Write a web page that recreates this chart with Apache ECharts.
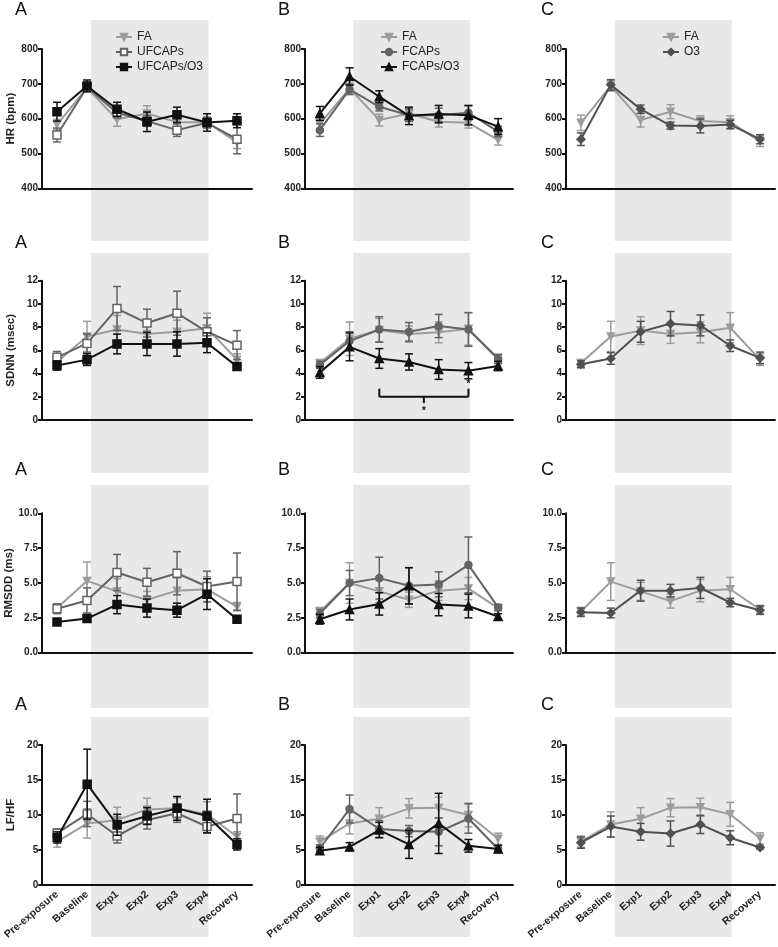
<!DOCTYPE html>
<html>
<head>
<meta charset="utf-8">
<script src="https://cdn.jsdelivr.net/npm/echarts@6/dist/echarts.min.js"></script>
<style>html,body{margin:0;padding:0;background:#fff}#c{width:778px;height:947px}</style>
</head>
<body>
<div id="c"></div>
<script>
// ---------- DATA ----------
const categories = ['Pre-exposure','Baseline','Exp1','Exp2','Exp3','Exp4','Recovery'];
const panelLetters = ['A','B','C'];
const yNames = ['HR (bpm)','SDNN (msec)','RMSDD (ms)','LF/HF'];
const yTicks = [[400,800,100],[0,12,2],[0,10,2.5],[0,20,5]];
const exposureBand = [1.13, 5.05];

// HR
const hrA_FA = [583, 688, 598, 615, 590, 590, 532];
const hrA_FA_err = [15, 10, 20, 22, 15, 15, 18];
const hrA_UF = [553, 690, 617, 593, 567, 588, 541];
const hrA_UF_err = [20, 10, 15, 15, 18, 15, 42];
const hrA_UFO3 = [620, 694, 627, 591, 611, 589, 594];
const hrA_UFO3_err = [27, 17, 20, 28, 22, 25, 20];
const hrB_FA = [585, 687, 596, 615, 591, 588, 539];
const hrB_FA_err = [15, 15, 17, 15, 15, 15, 15];
const hrB_F = [567, 684, 634, 610, 610, 617, 563];
const hrB_F_err = [18, 15, 12, 18, 20, 20, 15];
const hrB_FO3 = [615, 721, 663, 608, 613, 610, 577];
const hrB_FO3_err = [20, 25, 17, 25, 25, 28, 23];
const hrC_FA = [588, 694, 596, 620, 593, 590, 535];
const hrC_FA_err = [22, 15, 20, 20, 15, 18, 15];
const hrC_O3 = [541, 697, 627, 580, 579, 583, 541];
const hrC_O3_err = [18, 15, 12, 10, 20, 12, 13];

// SDNN
const sdA_FA = [5.0, 7.2, 7.8, 7.4, 7.6, 7.9, 5.2];
const sdA_FA_err = [0.3, 1.3, 1.2, 0.8, 1.0, 1.3, 0.5];
const sdA_UF = [5.4, 6.6, 9.6, 8.35, 9.2, 7.6, 6.45];
const sdA_UF_err = [0.5, 0.8, 1.9, 1.2, 1.9, 1.2, 1.25];
const sdA_UFO3 = [4.7, 5.2, 6.55, 6.55, 6.55, 6.65, 4.6];
const sdA_UFO3_err = [0.4, 0.5, 0.85, 1.0, 1.05, 0.85, 0.3];
const sdB_FA = [4.9, 7.0, 7.75, 7.4, 7.55, 7.85, 5.3];
const sdB_FA_err = [0.3, 1.45, 1.0, 0.7, 0.9, 1.4, 0.35];
const sdB_F = [4.75, 6.8, 7.8, 7.6, 8.1, 7.8, 5.25];
const sdB_F_err = [0.3, 0.8, 1.1, 0.8, 1.0, 1.45, 0.4];
const sdB_FO3 = [4.1, 6.3, 5.3, 5.0, 4.35, 4.25, 4.65];
const sdB_FO3_err = [0.5, 1.2, 0.85, 0.7, 0.85, 0.7, 0.4];
const sdC_FA = [4.9, 7.2, 7.7, 7.4, 7.55, 7.95, 5.2];
const sdC_FA_err = [0.3, 1.3, 1.2, 0.8, 0.9, 1.3, 0.5];
const sdC_O3 = [4.8, 5.3, 7.6, 8.3, 8.15, 6.4, 5.35];
const sdC_O3_err = [0.3, 0.5, 0.9, 1.05, 0.9, 0.5, 0.5];

// RMSSD
const rmA_FA = [3.2, 5.15, 4.4, 3.8, 4.45, 4.55, 3.3];
const rmA_FA_err = [0.3, 1.35, 0.9, 0.6, 0.9, 0.9, 0.3];
const rmA_UF = [3.15, 3.75, 5.75, 5.05, 5.7, 4.75, 5.1];
const rmA_UF_err = [0.35, 0.9, 1.3, 1.0, 1.55, 1.1, 2.05];
const rmA_UFO3 = [2.2, 2.45, 3.45, 3.2, 3.05, 4.2, 2.4];
const rmA_UFO3_err = [0.15, 0.2, 0.65, 0.65, 0.5, 1.1, 0.15];
const rmB_FA = [2.95, 5.0, 4.4, 3.8, 4.45, 4.6, 3.2];
const rmB_FA_err = [0.3, 1.45, 0.8, 0.55, 0.7, 0.8, 0.2];
const rmB_F = [2.8, 5.0, 5.35, 4.8, 4.9, 6.3, 3.25];
const rmB_F_err = [0.3, 0.9, 1.5, 1.3, 0.9, 2.0, 0.2];
const rmB_FO3 = [2.4, 3.1, 3.5, 4.8, 3.45, 3.35, 2.6];
const rmB_FO3_err = [0.35, 0.75, 0.8, 1.3, 0.8, 0.85, 0.2];
const rmC_FA = [2.95, 5.1, 4.4, 3.7, 4.45, 4.55, 3.1];
const rmC_FA_err = [0.3, 1.35, 0.65, 0.5, 0.8, 0.85, 0.3];
const rmC_O3 = [2.9, 2.85, 4.45, 4.45, 4.65, 3.6, 3.05];
const rmC_O3_err = [0.3, 0.35, 0.75, 0.45, 0.75, 0.3, 0.3];

// LF/HF
const lfA_FA = [6.2, 8.8, 9.3, 10.8, 10.95, 10.1, 6.9];
const lfA_FA_err = [0.8, 2.1, 1.8, 1.6, 1.5, 1.8, 0.7];
const lfA_UF = [7.4, 10.15, 7.0, 9.3, 10.25, 8.35, 9.5];
const lfA_UF_err = [0.6, 1.8, 1.0, 1.3, 1.3, 0.9, 3.5];
const lfA_UFO3 = [6.8, 14.4, 8.6, 9.85, 10.95, 9.85, 5.8];
const lfA_UFO3_err = [0.8, 5.0, 1.5, 1.2, 1.7, 2.4, 0.8];
const lfB_FA = [6.2, 8.8, 9.45, 10.95, 11.05, 10.0, 6.6];
const lfB_FA_err = [0.8, 1.5, 1.6, 1.4, 1.5, 1.7, 0.8];
const lfB_F = [5.25, 10.85, 8.0, 7.7, 7.6, 9.5, 5.15];
const lfB_F_err = [0.5, 2.0, 1.2, 0.8, 2.0, 2.1, 0.5];
const lfB_FO3 = [4.9, 5.45, 7.85, 5.8, 8.8, 5.6, 5.15];
const lfB_FO3_err = [0.5, 0.6, 1.1, 2.0, 4.3, 0.9, 0.5];
const lfC_FA = [6.2, 8.65, 9.45, 11.05, 11.1, 10.1, 6.65];
const lfC_FA_err = [0.8, 1.8, 1.6, 1.3, 1.3, 1.7, 0.8];
const lfC_O3 = [6.05, 8.35, 7.6, 7.35, 8.65, 6.75, 5.35];
const lfC_O3_err = [0.8, 1.5, 1.2, 1.8, 1.3, 1.0, 0.2];

// significance annotation (SDNN, panel B)
const sigFrom = 'Exp1', sigTo = 'Exp4';
const sigLevel = 2.0, sigArmTop = 2.7, sigStemBottom = 1.45, sigStarY = 0.75;
const sigStar2 = ['Exp4', 3.1];

// ---------- STYLES / LAYOUT ----------
const FONT = "'Liberation Sans', Arial, sans-serif";
const ST = {
  FA:   {color:'#9c9c9c', fill:'#9c9c9c', symbol:'triangle', rotate:180, size:7},
  UF:   {color:'#646464', fill:'#ffffff', symbol:'rect', rotate:0, size:8},
  UFO3: {color:'#111111', fill:'#111111', symbol:'rect', rotate:0, size:8},
  F:    {color:'#646464', fill:'#646464', symbol:'circle', rotate:0, size:7},
  FO3:  {color:'#111111', fill:'#111111', symbol:'triangle', rotate:0, size:8},
  O3:   {color:'#505050', fill:'#505050', symbol:'diamond', rotate:0, size:8}
};
const colDefs = [
  [['FA','FA'],['UFCAPs','UF'],['UFCAPs/O3','UFO3']],
  [['FA','FA'],['FCAPs','F'],['FCAPs/O3','FO3']],
  [['FA','FA'],['O3','O3']]
];
const dataSets = [
  [[[hrA_FA,hrA_FA_err],[hrA_UF,hrA_UF_err],[hrA_UFO3,hrA_UFO3_err]],
   [[hrB_FA,hrB_FA_err],[hrB_F,hrB_F_err],[hrB_FO3,hrB_FO3_err]],
   [[hrC_FA,hrC_FA_err],[hrC_O3,hrC_O3_err]]],
  [[[sdA_FA,sdA_FA_err],[sdA_UF,sdA_UF_err],[sdA_UFO3,sdA_UFO3_err]],
   [[sdB_FA,sdB_FA_err],[sdB_F,sdB_F_err],[sdB_FO3,sdB_FO3_err]],
   [[sdC_FA,sdC_FA_err],[sdC_O3,sdC_O3_err]]],
  [[[rmA_FA,rmA_FA_err],[rmA_UF,rmA_UF_err],[rmA_UFO3,rmA_UFO3_err]],
   [[rmB_FA,rmB_FA_err],[rmB_F,rmB_F_err],[rmB_FO3,rmB_FO3_err]],
   [[rmC_FA,rmC_FA_err],[rmC_O3,rmC_O3_err]]],
  [[[lfA_FA,lfA_FA_err],[lfA_UF,lfA_UF_err],[lfA_UFO3,lfA_UFO3_err]],
   [[lfB_FA,lfB_FA_err],[lfB_F,lfB_F_err],[lfB_FO3,lfB_FO3_err]],
   [[lfC_FA,lfC_FA_err],[lfC_O3,lfC_O3_err]]]
];
const colX = [{left:42,width:210},{left:305,width:208},{left:566,width:209}];
const rowY = [{top:49,height:139.3},{top:280.7,height:139.3},{top:513.3,height:139.4},{top:745,height:140}];
const bandY = [[20,241],[253,473],[485,708],[717,937]];
const letterX = [15, 278, 541];
const letterY = [11.5, 244, 471.5, 706.5];
const legendLeft = [110, 375, 657];

const grids = [], xAxes = [], yAxes = [], series = [], graphics = [], legends = [];

function errRender(color){
  return function(params, api){
    const i = api.value(0);
    const p1 = api.coord([i, api.value(2)]);
    const p2 = api.coord([i, api.value(1)]);
    const w = 4;
    const style = {stroke: color, lineWidth: 1.5};
    return {type:'group', children:[
      {type:'line', shape:{x1:p1[0],y1:p1[1],x2:p2[0],y2:p2[1]}, style},
      {type:'line', shape:{x1:p1[0]-w,y1:p1[1],x2:p1[0]+w,y2:p1[1]}, style},
      {type:'line', shape:{x1:p2[0]-w,y1:p2[1],x2:p2[0]+w,y2:p2[1]}, style}
    ]};
  };
}

for (let r = 0; r < 4; r++) {
  for (let c = 0; c < 3; c++) {
    const p = r*3 + c;
    grids.push({left: colX[c].left, width: colX[c].width, top: rowY[r].top, height: rowY[r].height});
    const [mn, mx, iv] = yTicks[r];
    xAxes.push({
      type:'category', gridIndex:p, data:categories, boundaryGap:true, z:2,
      axisLine:{lineStyle:{color:'#111', width:2}},
      axisTick:{alignWithLabel:true, length:5, lineStyle:{color:'#111', width:2}},
      axisLabel:{show: r===3, interval:0, rotate:40, fontSize:10.5, fontWeight:'bold', color:'#222', margin:8, fontFamily:FONT},
      splitLine:{show:false}
    });
    yAxes.push({
      type:'value', gridIndex:p, min:mn, max:mx, interval:iv, z:2,
      axisLine:{show:true, lineStyle:{color:'#111', width:2}},
      axisTick:{show:true, length:4, lineStyle:{color:'#111', width:2}},
      axisLabel:{fontSize:10, fontWeight:'bold', color:'#222', margin:4, fontFamily:FONT,
                 formatter: r===2 ? (v => v.toFixed(1)) : (v => String(v))},
      splitLine:{show:false},
      name: c===0 ? yNames[r] : '', nameLocation:'middle', nameGap:25,
      nameTextStyle:{fontSize:11.5, fontWeight:'bold', color:'#222', fontFamily:FONT}
    });
    const defs = colDefs[c];
    defs.forEach((d, k) => {
      const st = ST[d[1]];
      const vals = dataSets[r][c][k][0], errs = dataSets[r][c][k][1];
      series.push({
        type:'custom', xAxisIndex:p, yAxisIndex:p, z: 3 + k*2, silent:true,
        renderItem: errRender(st.color), encode:{x:0, y:[1,2]},
        data: vals.map((v, i) => [i, v - errs[i], v + errs[i]])
      });
      series.push({
        type:'line', name:d[0], xAxisIndex:p, yAxisIndex:p, z: 4 + k*2,
        data: vals, symbol: st.symbol, symbolRotate: st.rotate, symbolSize: st.size,
        showAllSymbol:true,
        lineStyle:{color:st.color, width:2},
        itemStyle:{color:st.fill, borderColor:st.color, borderWidth:1.5, opacity:1}
      });
    });
    graphics.push({type:'text', left: letterX[c], top: letterY[r] - 10,
      style:{text: panelLetters[c], font: '18px ' + FONT, fill:'#111'}});
  }
}

// exposure shading bands (hidden grids spanning each panel's height)
for (let r = 0; r < 4; r++) {
  for (let c = 0; c < 3; c++) {
    const g = grids.length;
    grids.push({left: colX[c].left, width: colX[c].width, top: bandY[r][0], height: bandY[r][1]-bandY[r][0]});
    xAxes.push({type:'value', gridIndex:g, min:-0.5, max:6.5, show:false});
    yAxes.push({type:'value', gridIndex:g, min:0, max:1, show:false});
    series.push({type:'line', xAxisIndex:g, yAxisIndex:g, data:[], z:-10, silent:true,
      markArea:{silent:true, z:-10, itemStyle:{color:'#e8e8e8'},
        data:[[{xAxis:exposureBand[0], yAxis:0},{xAxis:exposureBand[1], yAxis:1}]]}});
  }
}

// significance bracket on SDNN panel B (grid 4)
series.push({
  type:'custom', xAxisIndex:4, yAxisIndex:4, z:20, silent:true,
  data:[[categories.indexOf(sigFrom), categories.indexOf(sigTo)]],
  encode:{x:[0,1]},
  renderItem: function(params, api){
    const a = api.value(0), b = api.value(1);
    const L = api.coord([a, sigLevel]), R = api.coord([b, sigLevel]);
    const LT = api.coord([a, sigArmTop]), RT = api.coord([b, sigArmTop]);
    const mx = (L[0] + R[0]) / 2;
    const sb = api.coord([a, sigStemBottom])[1];
    const sy = api.coord([a, sigStarY])[1];
    const s2 = api.coord([categories.indexOf(sigStar2[0]), sigStar2[1]]);
    const style = {stroke:'#111', lineWidth:2};
    return {type:'group', children:[
      {type:'line', shape:{x1:L[0],y1:L[1],x2:R[0],y2:R[1]}, style},
      {type:'line', shape:{x1:L[0],y1:L[1],x2:LT[0],y2:LT[1]}, style},
      {type:'line', shape:{x1:R[0],y1:R[1],x2:RT[0],y2:RT[1]}, style},
      {type:'line', shape:{x1:mx,y1:L[1],x2:mx,y2:sb}, style},
      {type:'text', style:{text:'*', x:mx, y:sy, align:'center', verticalAlign:'middle', font:'bold 10px ' + FONT, fill:'#111'}},
      {type:'text', style:{text:'*', x:s2[0], y:s2[1], align:'center', verticalAlign:'middle', font:'bold 10px ' + FONT, fill:'#111'}}
    ]};
  }
});

for (let c = 0; c < 3; c++) {
  legends.push({
    orient:'vertical', left: legendLeft[c], top: 26,
    data: colDefs[c].map(d => d[0]),
    itemWidth: 16, itemHeight: 8, itemGap: 3,
    selectedMode:false,
    textStyle:{fontSize:12, color:'#222', fontFamily:FONT}
  });
}

const chart = echarts.init(document.getElementById('c'), null, {renderer:'canvas'});
chart.setOption({
  animation:false,
  backgroundColor:'#ffffff',
  textStyle:{fontFamily:FONT},
  grid: grids, xAxis: xAxes, yAxis: yAxes,
  legend: legends,
  graphic: graphics,
  series: series
});
</script>
</body>
</html>
